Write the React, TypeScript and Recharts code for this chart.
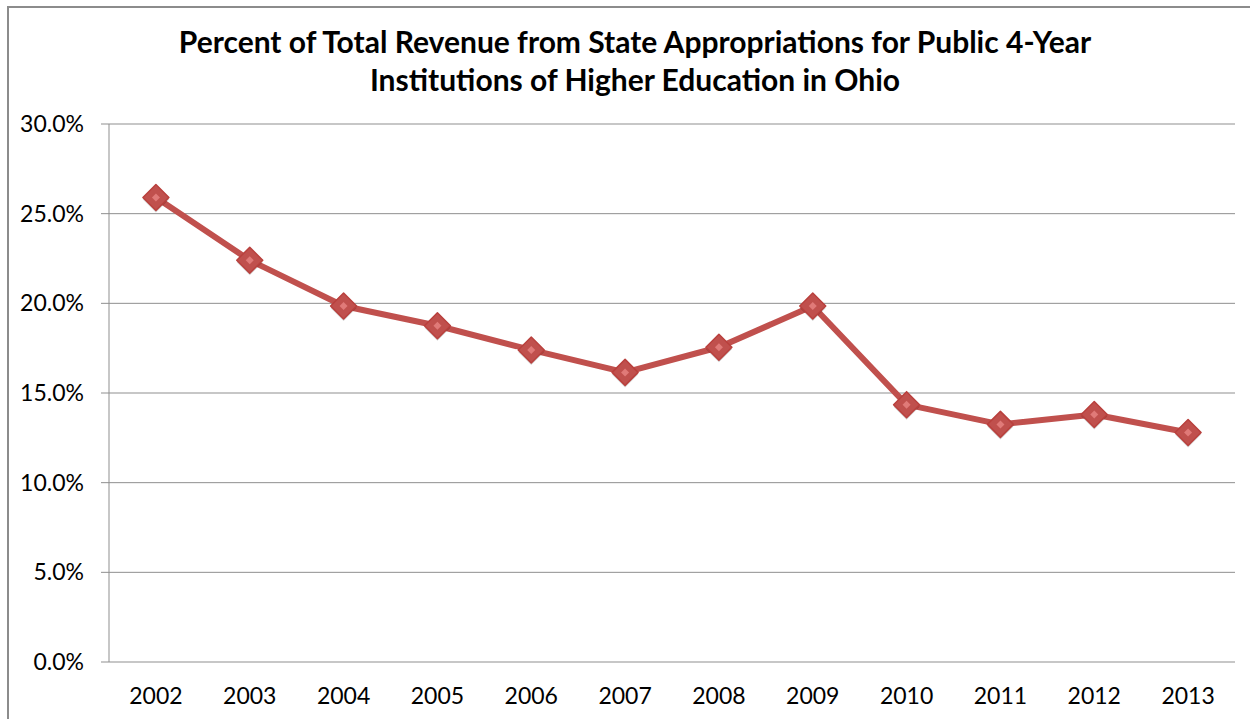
import React from 'react'
import { LineChart, Line, XAxis, YAxis, CartesianGrid } from 'recharts'

const years = [2002, 2003, 2004, 2005, 2006, 2007, 2008, 2009, 2010, 2011, 2012, 2013]
const stateShare = [25.9, 22.4, 19.85, 18.75, 17.4, 16.15, 17.55, 19.85, 14.35, 13.25, 13.8, 12.8]
const yTicks = [0, 5, 10, 15, 20, 25, 30]
const slotEdges = [2001.5, 2002.5, 2003.5, 2004.5, 2005.5, 2006.5, 2007.5, 2008.5, 2009.5, 2010.5, 2011.5, 2012.5, 2013.5]

const data = years.map((y, i) => ({ year: y, share: stateShare[i] }))

const FONT = 'Lato, "Open Sans", sans-serif'
const RED = '#C0504D'

const Diamond = (props: any) => {
  const { cx, cy } = props
  if (cx == null || cy == null) return null
  const r = 13
  const s = 4
  return (
    <g>
      <polygon
        points={`${cx},${cy - r + 2} ${cx + r},${cy + 2} ${cx},${cy + r + 2} ${cx - r},${cy + 2}`}
        fill="rgba(0,0,0,0.18)"
      />
      <polygon
        points={`${cx},${cy - r} ${cx + r},${cy} ${cx},${cy + r} ${cx - r},${cy}`}
        fill={RED}
        stroke="#B9403D"
        strokeWidth={1.5}
        strokeLinejoin="round"
      />
      <polygon
        points={`${cx},${cy - s} ${cx + s},${cy} ${cx},${cy + s} ${cx - s},${cy}`}
        fill="#E07A78"
      />
    </g>
  )
}

export default function App() {
  return (
    <div
      style={{
        position: 'fixed',
        left: 7,
        top: 6,
        width: 1260,
        height: 720,
        border: '2px solid #8c8c8c',
        background: '#fff',
        fontFamily: FONT,
      }}
    >
      <div
        style={{
          position: 'absolute',
          left: 0,
          top: 14,
          width: 1252,
          textAlign: 'center',
          fontWeight: 700,
          fontSize: 30,
          lineHeight: '38px',
          color: '#000',
        }}
      >
        Percent of Total Revenue from State Appropriations for Public 4-Year
        <br />
        Institutions of Higher Education in Ohio
      </div>
      <LineChart
        width={1240}
        height={712}
        data={data}
        margin={{ top: 116, right: 14, bottom: 18, left: 0 }}
        style={{ position: 'absolute', left: 0, top: 0 }}
      >
        <CartesianGrid vertical={false} stroke="#8f8f8f" strokeWidth={1} />
        <XAxis
          xAxisId="edges"
          dataKey="year"
          type="number"
          domain={[2001.5, 2013.5]}
          ticks={slotEdges}
          tick={false}
          tickSize={7}
          tickLine={{ stroke: '#8f8f8f' }}
          axisLine={{ stroke: '#8f8f8f' }}
          height={0}
          allowDataOverflow
        />
        <XAxis
          dataKey="year"
          type="number"
          domain={[2001.5, 2013.5]}
          ticks={years}
          interval={0}
          tickLine={false}
          axisLine={false}
          tickMargin={20}
          tick={{ fill: '#000', fontSize: 23, fontFamily: FONT }}
          height={40}
          allowDataOverflow
        />
        <YAxis
          domain={[0, 30]}
          ticks={yTicks}
          interval={0}
          width={100}
          tickSize={8}
          tickMargin={17}
          tickLine={{ stroke: '#8f8f8f' }}
          axisLine={{ stroke: '#8f8f8f' }}
          tickFormatter={(v: number) => v.toFixed(1) + '%'}
          tick={{ fill: '#000', fontSize: 23, fontFamily: FONT }}
        />
        <Line
          dataKey="share"
          stroke={RED}
          strokeWidth={6}
          strokeLinejoin="round"
          dot={<Diamond />}
          activeDot={false}
          isAnimationActive={false}
        />
      </LineChart>
    </div>
  )
}
